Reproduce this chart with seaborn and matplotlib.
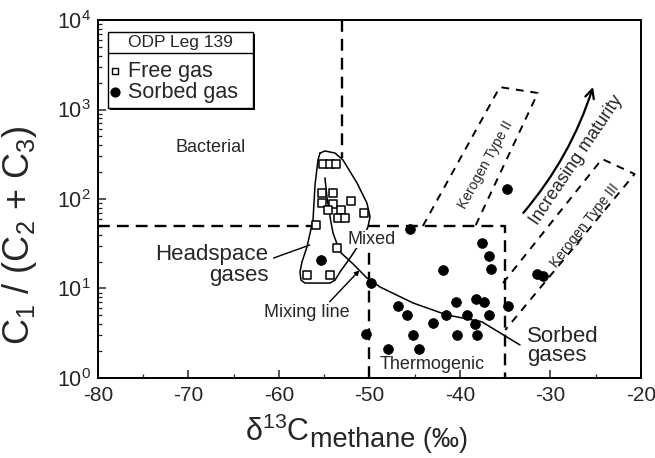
import matplotlib
matplotlib.use("Agg")
import matplotlib.pyplot as plt
import numpy as np
import pandas as pd
import seaborn as sns
from matplotlib.patches import Rectangle
from matplotlib.lines import Line2D
from matplotlib.ticker import MultipleLocator, LogLocator, NullFormatter

# Free (headspace) gas: d13C of methane (per mil) and C1/(C2+C3)
free_d13c = [-55.1, -54.4, -53.7, -55.2, -54.0, -55.2, -54.0, -52.0, -54.6,
             -53.2, -53.5, -52.7, -50.6, -55.9, -53.6, -56.9, -54.4]
free_ratio = [246, 246, 246, 117, 117, 90, 88, 95, 75,
              75, 61, 61, 70, 51, 28, 14, 14]

# Sorbed gas
sorbed_d13c = [-46.8, -45.8, -47.9, -44.5, -45.2, -43.0, -41.5, -40.4, -40.3,
               -39.2, -38.2, -37.4, -38.3, -38.1, -36.8, -37.6, -36.8, -36.6,
               -41.9, -50.4, -49.8, -45.5, -34.8, -55.4, -34.7, -31.5, -30.8]
sorbed_ratio = [6.3, 5.1, 2.1, 2.1, 3.0, 4.1, 5.1, 7.1, 3.0,
                5.1, 7.7, 7.1, 4.0, 3.0, 5.1, 32.5, 23.3, 16.5,
                16.1, 3.1, 11.5, 46, 129, 20.8, 6.3, 14.5, 13.8]

# Genetic field boundaries
bact_x, bact_y = [-53, -53], [1e4, 290]
upper_x, upper_y = [-80, -56.5], [50, 50]
thermo_x, thermo_y = [-50, -50, -35, -35], [1, 50, 50, 1]

# Kerogen maturity trends
k2_x = [-44.1, -35.6, -31.4, -38.3]
k2_y = [50, 1780, 1530, 50]
k3_x = [-35.25, -24.3, -20.7, -35.0]
k3_y = [11.5, 280, 190, 3.44]

# Headspace gas envelope
env_x = [-55.47, -54.92, -53.81, -52.93, -51.38, -50.28, -49.94, -50.17, -50.83,
         -52.15, -53.26, -53.81, -54.36, -57.13, -57.57, -57.68, -57.46, -56.91,
         -56.24, -56.02, -55.69, -55.47]
env_y = [326, 344, 326, 273, 151, 90, 63, 48.7, 34.8,
         21.9, 15.3, 12.4, 11.5, 11.5, 12.4, 15.3, 19.8, 29.1,
         58.2, 143, 273, 326]

# Mixing line
mix_x = [-54.92, -54.70, -54.36, -54.03, -53.26, -51.93, -50.28, -48.84,
         -45.19, -41.44, -37.6, -33.37]
mix_y = [172, 105, 63, 41.7, 25.6, 19.3, 13.1, 10.4, 6.89, 5.06, 4.25, 2.34]

x_ticks = [-80, -70, -60, -50, -40, -30, -20]

sns.set_style("ticks")
plt.rcParams["font.family"] = ["Liberation Sans", "DejaVu Sans"]
plt.rcParams["mathtext.fontset"] = "custom"
plt.rcParams["mathtext.rm"] = "Liberation Sans"
plt.rcParams["mathtext.it"] = "Liberation Sans:italic"
plt.rcParams["mathtext.bf"] = "Liberation Sans:bold"

fig = plt.figure(figsize=(6.55, 4.58), dpi=100)
ax = fig.add_axes([0.1496, 0.1747, 0.829, 0.7816])

free_df = pd.DataFrame({"d13c": free_d13c, "ratio": free_ratio})
sorbed_df = pd.DataFrame({"d13c": sorbed_d13c, "ratio": sorbed_ratio})

ax.set_yscale("log")
ax.set_xlim(-80, -20)
ax.set_ylim(1, 1e4)

long_dash = dict(color="black", lw=1.7, dashes=(5, 3), solid_capstyle="butt")
short_dash = dict(color="black", lw=1.4, dashes=(4, 3.5))

ax.plot(bact_x, bact_y, **long_dash)
ax.plot(upper_x, upper_y, **long_dash)
ax.plot(thermo_x, thermo_y, **long_dash)
ax.plot(k2_x, k2_y, **short_dash)
ax.plot(k3_x, k3_y, **short_dash)
ax.plot(env_x, env_y, color="black", lw=1.1)
ax.plot(mix_x, mix_y, color="black", lw=1.1)

sns.scatterplot(data=free_df, x="d13c", y="ratio", marker="s", s=38,
                color="white", edgecolor="black", linewidth=1.1, ax=ax, zorder=5)
sns.scatterplot(data=sorbed_df, x="d13c", y="ratio", marker="o", s=50,
                color="black", edgecolor="black", linewidth=0.5, ax=ax, zorder=5)

# Field and trend annotations
fs = 13
ax.text(-67.6, 381, "Bacterial", fontsize=fs, ha="center", va="center")
ax.text(-61.2, 18.3, "Headspace\ngases", fontsize=16, ha="right", va="center",
        multialignment="right", linespacing=0.95)
ax.plot([-60.6, -56.6], [21.9, 30.6], color="black", lw=1.0)
ax.text(-49.8, 35.7, "Mixed", fontsize=fs, ha="center", va="center",
        bbox=dict(facecolor="white", edgecolor="none", pad=0.5), zorder=4)
ax.text(-56.9, 5.4, "Mixing line", fontsize=fs, ha="center", va="center")
ax.annotate("", xy=(-51.1, 16.0), xytext=(-54.4, 7.1),
            arrowprops=dict(arrowstyle="-|>", color="black", lw=1.0,
                            mutation_scale=7, shrinkA=0, shrinkB=0))
ax.text(-43.1, 1.4, "Thermogenic", fontsize=fs, ha="center", va="center")
ax.text(-32.6, 2.28, "Sorbed\ngases", fontsize=16, ha="left", va="center",
        linespacing=0.9)
ax.text(-37.2, 240, "Kerogen Type II", fontsize=10, ha="center", va="center",
        rotation=61)
ax.text(-26.2, 51, "Kerogen Type III", fontsize=10, ha="center", va="center",
        rotation=52)
ax.text(-27.1, 273, "Increasing maturity", fontsize=13, ha="center",
        va="center", rotation=56)
ax.annotate("", xy=(-25.3, 1784), xytext=(-33.0, 70),
            arrowprops=dict(arrowstyle="->", color="black", lw=1.6,
                            mutation_scale=16, shrinkA=0, shrinkB=0,
                            connectionstyle="arc3,rad=0.1"))

# Axes styling
ax.set_xticks(x_ticks)
ax.set_xticklabels([str(v) for v in x_ticks])
ax.xaxis.set_minor_locator(MultipleLocator(5))
ax.yaxis.set_major_locator(LogLocator(base=10, numticks=10))
ax.yaxis.set_minor_locator(LogLocator(base=10, subs=np.arange(2, 10), numticks=10))
ax.yaxis.set_minor_formatter(NullFormatter())
ax.tick_params(axis="both", which="major", direction="in", length=6, width=1.1,
               labelsize=15, top=False, right=False)
ax.tick_params(axis="x", which="major", pad=6)
ax.tick_params(axis="y", which="major", pad=5, labelsize=15.5)
ax.tick_params(axis="both", which="minor", direction="in", length=3, width=0.9,
               top=False, right=False)
for sp in ax.spines.values():
    sp.set_linewidth(1.4)
    sp.set_color("black")

ax.set_ylabel(r"C$_1$ / (C$_2$ + C$_3$)", fontsize=26)
ax.yaxis.set_label_coords(-0.108, 0.40)
ax.set_xlabel(r"δ$^{13}$C", fontsize=22)
ax.xaxis.set_label_coords(0.33, -0.108)
ax.annotate("methane (‰)", xy=(1.0, 0.0), xycoords=ax.xaxis.label,
            xytext=(0.5, -3.5), textcoords="offset points", fontsize=19.5,
            ha="left", va="bottom")

# Legend box
lx0, lx1, ly0, ly1, lsep = 0.0184, 0.2855, 0.7542, 0.9665, 0.9078
ax.add_patch(Rectangle((lx0 + 0.004, ly0 - 0.006), lx1 - lx0, ly1 - ly0,
                       transform=ax.transAxes, facecolor="black",
                       edgecolor="none", zorder=6))
ax.add_patch(Rectangle((lx0, ly0), lx1 - lx0, ly1 - ly0, transform=ax.transAxes,
                       facecolor="white", edgecolor="black", lw=1.0, zorder=7))
ax.add_line(Line2D([lx0, lx1], [lsep, lsep], transform=ax.transAxes,
                   color="black", lw=1.0, zorder=8))
ax.text((lx0 + lx1) / 2, (ly1 + lsep) / 2, "ODP Leg 139", fontsize=12.5,
        ha="center", va="center", transform=ax.transAxes, zorder=8)
ax.scatter([0.031], [0.8575], marker="s", s=22, facecolor="white",
           edgecolor="black", lw=1.0, transform=ax.transAxes, zorder=8)
ax.scatter([0.031], [0.7989], marker="o", s=40, color="black",
           transform=ax.transAxes, zorder=8)
ax.text(0.056, 0.8575, "Free gas", fontsize=15.5, ha="left", va="center",
        transform=ax.transAxes, zorder=8)
ax.text(0.056, 0.7989, "Sorbed gas", fontsize=15.5, ha="left", va="center",
        transform=ax.transAxes, zorder=8)

fig.savefig("out.png", dpi=100)
